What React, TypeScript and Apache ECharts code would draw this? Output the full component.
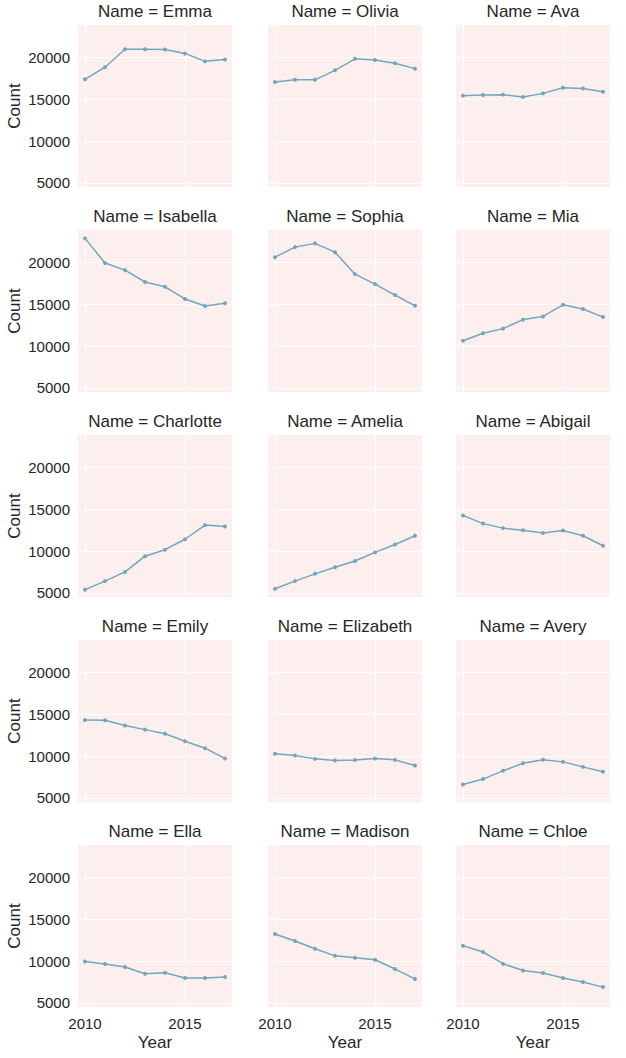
import React, { useEffect, useRef } from "react";
import * as echarts from "echarts";

const years = [2010, 2011, 2012, 2013, 2014, 2015, 2016, 2017];
const names = [
  "Emma", "Olivia", "Ava",
  "Isabella", "Sophia", "Mia",
  "Charlotte", "Amelia", "Abigail",
  "Emily", "Elizabeth", "Avery",
  "Ella", "Madison", "Chloe",
];

const emma = [17400, 18850, 21000, 21000, 20980, 20500, 19550, 19780];
const olivia = [17080, 17350, 17340, 18480, 19850, 19720, 19330, 18680];
const ava = [15450, 15530, 15570, 15280, 15720, 16400, 16300, 15920];
const isabella = [22900, 19950, 19100, 17680, 17100, 15650, 14800, 15130];
const sophia = [20650, 21850, 22300, 21250, 18620, 17430, 16120, 14830];
const mia = [10650, 11550, 12100, 13180, 13560, 14950, 14450, 13480];
const charlotte = [5400, 6420, 7520, 9400, 10180, 11430, 13120, 12950];
const amelia = [5500, 6420, 7290, 8080, 8830, 9860, 10800, 11850];
const abigail = [14280, 13300, 12760, 12500, 12180, 12480, 11850, 10650];
const emily = [14320, 14300, 13680, 13180, 12680, 11780, 10960, 9720];
const elizabeth = [10280, 10080, 9680, 9480, 9540, 9720, 9560, 8880];
const avery = [6620, 7260, 8250, 9150, 9580, 9320, 8720, 8150];
const ella = [9960, 9660, 9300, 8500, 8620, 7980, 7980, 8100];
const madison = [13250, 12420, 11480, 10640, 10400, 10170, 9060, 7880];
const chloe = [11850, 11100, 9700, 8880, 8580, 7980, 7500, 6900];

const seriesValues = [
  emma, olivia, ava,
  isabella, sophia, mia,
  charlotte, amelia, abigail,
  emily, elizabeth, avery,
  ella, madison, chloe,
];

const yTicks = [5000, 10000, 15000, 20000];
const xTicks = [2010, 2015];

const colLeft = [78, 268, 456];
const rowTop = [25, 230, 435, 640, 845];
const W = 154;
const H = 162;
const PINK = "#fdefee";
const LINE = "#74a5bd";
const TEXT = "#262626";
const FONT = "'Liberation Sans', Arial, sans-serif";

export default function App() {
  const ref = useRef<HTMLDivElement>(null);
  useEffect(() => {
    if (!ref.current) return;
    const chart = echarts.init(ref.current, undefined, { renderer: "svg" });
    const grids: any[] = [];
    const xAxes: any[] = [];
    const yAxes: any[] = [];
    const series: any[] = [];
    const titles: any[] = [];
    const graphics: any[] = [];
    names.forEach((name, i) => {
      const r = Math.floor(i / 3);
      const c = i % 3;
      grids.push({
        left: colLeft[c],
        top: rowTop[r],
        width: W,
        height: H,
        show: true,
        backgroundColor: PINK,
        borderWidth: 0,
      });
      xAxes.push({
        type: "value",
        gridIndex: i,
        min: 2009.65,
        max: 2017.35,
        axisLine: { show: false },
        axisTick: { show: false, customValues: xTicks },
        axisLabel: {
          show: r === 4,
          customValues: xTicks,
          formatter: (v: number) => String(v),
          fontSize: 15,
          color: TEXT,
          fontFamily: FONT,
          margin: 9,
        },
        splitLine: { show: true, lineStyle: { color: "#ffffff", width: 1 } },
      });
      yAxes.push({
        type: "value",
        gridIndex: i,
        min: 4520,
        max: 23900,
        axisLine: { show: false },
        axisTick: { show: false, customValues: yTicks },
        axisLabel: {
          show: c === 0,
          customValues: yTicks,
          formatter: (v: number) => String(v),
          fontSize: 15,
          color: TEXT,
          fontFamily: FONT,
          margin: 8,
        },
        splitLine: { show: true, lineStyle: { color: "#ffffff", width: 1 } },
      });
      series.push({
        type: "line",
        xAxisIndex: i,
        yAxisIndex: i,
        data: years.map((y, j) => [y, seriesValues[i][j]]),
        symbol: "circle",
        symbolSize: 4,
        showSymbol: true,
        lineStyle: { color: LINE, width: 1.5 },
        itemStyle: { color: LINE },
      });
      titles.push({
        text: "Name = " + name,
        left: colLeft[c] + W / 2,
        top: rowTop[r] - 22,
        textAlign: "center",
        padding: 0,
        textStyle: {
          fontSize: 17,
          fontWeight: "normal",
          color: TEXT,
          fontFamily: FONT,
        },
      });
    });
    rowTop.forEach((t) => {
      graphics.push({
        type: "text",
        x: 14,
        y: t + H / 2,
        rotation: Math.PI / 2,
        style: {
          text: "Count",
          fontSize: 17,
          fontFamily: FONT,
          fill: TEXT,
          align: "center",
          verticalAlign: "middle",
        },
      });
    });
    colLeft.forEach((l) => {
      graphics.push({
        type: "text",
        x: l + W / 2,
        y: 1042,
        style: {
          text: "Year",
          fontSize: 17,
          fontFamily: FONT,
          fill: TEXT,
          align: "center",
          verticalAlign: "middle",
        },
      });
    });
    chart.setOption({
      animation: false,
      backgroundColor: "#ffffff",
      title: titles,
      grid: grids,
      xAxis: xAxes,
      yAxis: yAxes,
      series,
      graphic: graphics,
    });
    return () => chart.dispose();
  }, []);
  return (
    <div
      ref={ref}
      style={{ position: "absolute", left: 0, top: 0, width: 626, height: 1058 }}
    />
  );
}
